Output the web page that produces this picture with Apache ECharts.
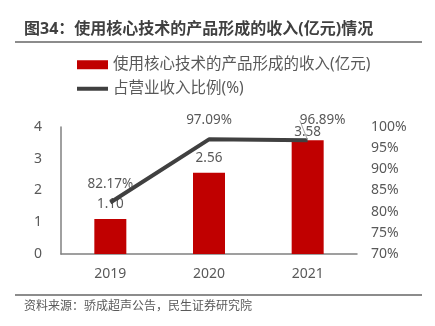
<!DOCTYPE html>
<html><head><meta charset="utf-8">
<script src="https://cdn.jsdelivr.net/npm/echarts@6/dist/echarts.min.js"></script>
<style>html,body{margin:0;padding:0;background:#fff}#c{width:435px;height:326px}</style>
</head><body><div id="c"></div>
<script>
var categories = ['2019', '2020', '2021'];
var revenue = [1.10, 2.56, 3.58];
var ratio = [82.17, 97.09, 96.89];
var titleText = '图34：使用核心技术的产品形成的收入(亿元)情况';
var barName = '使用核心技术的产品形成的收入(亿元)';
var lineName = '占营业收入比例(%)';
var sourceText = '资料来源：骄成超声公告，民生证券研究院';

var FF = "'Noto Sans', 'Noto Sans CJK SC', sans-serif";
var chart = echarts.init(document.getElementById('c'), null, {renderer: 'canvas'});
chart.setOption({
  animation: false,
  textStyle: {fontFamily: FF},
  title: {text: titleText, left: 19, top: 16, textStyle: {fontSize: 16, fontWeight: 'bold', color: '#404040', fontFamily: FF}},
  graphic: [
    {type: 'line', shape: {x1: 15, y1: 42, x2: 422, y2: 42}, style: {stroke: '#666', lineWidth: 1.5}},
    {type: 'line', shape: {x1: 15, y1: 295, x2: 422, y2: 295}, style: {stroke: '#666', lineWidth: 1.5}},
    {type: 'text', left: 24, top: 301, style: {text: sourceText, fontSize: 12, fill: '#595959', fontFamily: FF}}
  ],
  legend: [
    {data: [barName], left: 72, top: 52, itemWidth: 31, itemHeight: 9, icon: 'rect',
     textStyle: {fontSize: 15.5, color: '#595959', fontFamily: FF}},
    {data: [{name: lineName, icon: 'rect'}], left: 72, top: 76, itemWidth: 31, itemHeight: 4,
     textStyle: {fontSize: 15.5, color: '#595959', fontFamily: FF}}
  ],
  grid: {left: 61, right: 78, top: 127, bottom: 72},
  xAxis: {type: 'category', data: categories,
    axisLine: {lineStyle: {color: '#808080', width: 1.5}}, axisTick: {show: false},
    axisLabel: {fontSize: 14, color: '#595959', margin: 13}},
  yAxis: [
    {type: 'value', min: 0, max: 4, interval: 1, splitLine: {show: false},
     axisLine: {show: true, lineStyle: {color: '#808080', width: 1.5}}, axisTick: {show: false},
     axisLabel: {fontSize: 14, color: '#595959', margin: 19}},
    {type: 'value', min: 70, max: 100, interval: 5, splitLine: {show: false},
     axisLine: {show: false}, axisTick: {show: false},
     axisLabel: {fontSize: 14, color: '#595959', margin: 14, formatter: '{value}%'}}
  ],
  series: [
    {name: barName, type: 'bar', data: revenue.map(function (v, i) {
        return i === 2 ? {value: v, label: {distance: 1}} : v; }),
     barWidth: 32, itemStyle: {color: '#C00000'},
     label: {show: true, position: 'top', distance: 8, fontSize: 13.5, color: '#595959',
       formatter: function (p) { return p.value.toFixed(2); }}},
    {name: lineName, type: 'line', yAxisIndex: 1, symbol: 'circle', symbolSize: 0,
     showSymbol: true,
     data: ratio.map(function (v, i) {
        return i === 2 ? {value: v, labelLine: {show: true, lineStyle: {color: '#a6a6a6', width: 1}}} : v; }),
     lineStyle: {color: '#404040', width: 4}, itemStyle: {color: '#404040'},
     label: {show: true, position: 'top', distance: 12, fontSize: 13.5, color: '#595959',
       formatter: function (p) { return p.value.toFixed(2) + '%'; }},
     labelLine: {show: false},
     labelLayout: function (p) { return p.dataIndex === 2 ? {dx: 15, dy: -1} : {}; }}
  ]
});
</script></body></html>
